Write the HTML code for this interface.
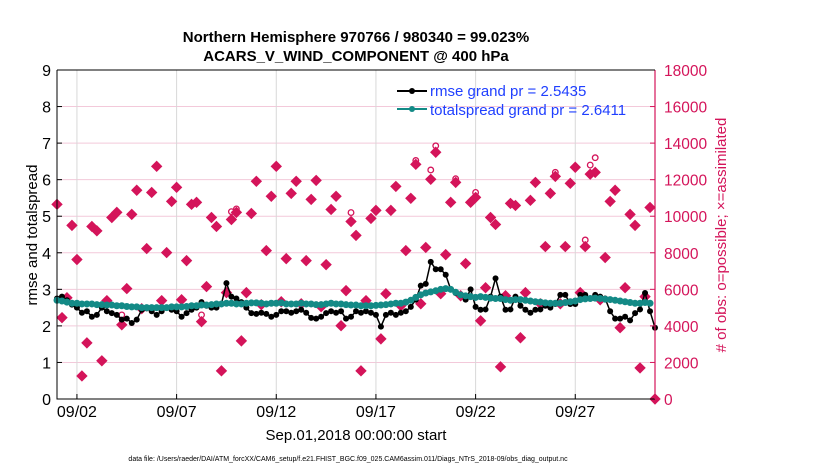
<!DOCTYPE html>
<html><head><meta charset="utf-8"><style>
body{margin:0;background:#fff;width:830px;height:470px;overflow:hidden;font-family:"Liberation Sans",sans-serif}
</style></head><body>
<svg id="chart" width="830" height="470" viewBox="0 0 830 470" xmlns="http://www.w3.org/2000/svg" font-family="Liberation Sans, sans-serif">
<g id="grid"></g>
<g id="counts"></g>
<g id="lines"></g>
<g id="axes"></g>
<text x="356" y="42" text-anchor="middle" font-size="15" font-weight="bold">Northern Hemisphere 970766 / 980340 = 99.023%</text>
<text x="356" y="61" text-anchor="middle" font-size="15" font-weight="bold">ACARS_V_WIND_COMPONENT @ 400 hPa</text>
<text x="356" y="440" text-anchor="middle" font-size="15">Sep.01,2018 00:00:00 start</text>
<text transform="translate(37,235) rotate(-90)" text-anchor="middle" font-size="15">rmse and totalspread</text>
<text transform="translate(726,235) rotate(-90)" text-anchor="middle" font-size="15" fill="#d4145a">#  of obs: o=possible; ×=assimilated</text>
<text x="348" y="461" text-anchor="middle" font-size="7">data file: /Users/raeder/DAI/ATM_forcXX/CAM6_setup/f.e21.FHIST_BGC.f09_025.CAM6assim.011/Diags_NTrS_2018-09/obs_diag_output.nc</text>
<g>
<line x1="397" y1="91" x2="427" y2="91" stroke="#000" stroke-width="2"/><circle cx="412" cy="91" r="3" fill="#000"/>
<text x="430" y="96" font-size="15" fill="#1f3fff">rmse grand pr = 2.5435</text>
<line x1="397" y1="109" x2="427" y2="109" stroke="#138a86" stroke-width="2"/><circle cx="412" cy="109" r="3" fill="#138a86"/>
<text x="430" y="115" font-size="15" fill="#1f3fff">totalspread grand pr = 2.6411</text>
</g>
</svg>
<script>
const rmse=[2.75,2.8,2.7,2.58,2.5,2.36,2.4,2.25,2.3,2.5,2.4,2.35,2.3,2.17,2.2,2.08,2.17,2.44,2.48,2.4,2.3,2.4,2.5,2.44,2.4,2.25,2.35,2.44,2.5,2.65,2.55,2.5,2.5,2.6,3.17,2.8,2.75,2.65,2.5,2.35,2.33,2.36,2.33,2.25,2.3,2.4,2.4,2.36,2.4,2.44,2.36,2.22,2.2,2.25,2.35,2.4,2.36,2.4,2.2,2.25,2.4,2.36,2.4,2.36,2.3,1.98,2.3,2.36,2.3,2.36,2.4,2.52,2.72,3.1,3.15,3.75,3.55,3.55,3.4,3.0,2.9,2.85,2.72,3.0,2.52,2.44,2.45,2.8,3.3,2.8,2.44,2.45,2.8,2.55,2.44,2.36,2.44,2.45,2.55,2.5,2.6,2.85,2.85,2.6,2.6,2.85,2.85,2.75,2.85,2.8,2.75,2.4,2.2,2.2,2.25,2.15,2.35,2.45,2.9,2.4,1.95];
const spread=[2.7,2.68,2.65,2.62,2.62,2.6,2.6,2.6,2.58,2.58,2.57,2.57,2.55,2.55,2.53,2.52,2.52,2.5,2.5,2.5,2.5,2.5,2.5,2.52,2.52,2.52,2.53,2.55,2.55,2.57,2.57,2.58,2.6,2.6,2.62,2.62,2.6,2.6,2.62,2.63,2.63,2.62,2.6,2.62,2.62,2.63,2.6,2.6,2.6,2.62,2.6,2.6,2.58,2.58,2.6,2.62,2.6,2.6,2.58,2.57,2.57,2.55,2.55,2.55,2.56,2.57,2.58,2.6,2.62,2.62,2.65,2.7,2.78,2.85,2.9,2.93,2.96,3.0,3.02,3.0,2.92,2.85,2.82,2.8,2.78,2.8,2.78,2.76,2.75,2.75,2.72,2.7,2.72,2.72,2.7,2.68,2.66,2.65,2.63,2.62,2.62,2.62,2.64,2.66,2.68,2.72,2.74,2.75,2.76,2.75,2.73,2.72,2.7,2.68,2.66,2.64,2.62,2.62,2.64,2.62];
const assimilated=[10650,4450,5540,9500,7630,1260,3070,9440,9200,2090,5380,9930,10210,4060,6040,10100,11420,4940,8230,11300,12730,5380,8010,10810,11580,5430,7570,10650,10760,4230,6150,9930,9440,1540,5820,9820,10210,3180,5820,10150,11910,5160,8120,11090,12730,5320,7680,11250,11910,5210,7570,10920,11960,5050,7350,10370,11090,4010,5930,9710,8950,1540,5380,9880,10320,3290,5760,10320,11630,5100,8120,10980,12840,5210,8290,12020,13500,5760,7900,10760,11850,5650,7410,10760,11030,4280,6090,9930,9550,1760,5650,10700,10590,3350,5820,10870,11850,5210,8340,11250,12180,5210,8340,11800,12680,5820,8340,12300,12400,5430,7740,10810,11420,3900,6090,10100,9500,1700,5600,10480,0];
const possible=[10650,4450,5540,9500,7630,1260,3070,9440,9200,2090,5380,9930,10210,4600,6040,10100,11420,4940,8230,11300,12730,5380,8010,10810,11580,5430,7570,10650,10760,4600,6150,9930,9440,1540,5820,10250,10400,3180,5820,10150,11910,5160,8120,11090,12730,5320,7680,11250,11910,5210,7570,10920,11960,5050,7350,10370,11090,4010,5930,10200,8950,1540,5380,9880,10320,3290,5760,10320,11630,5100,8120,10980,13050,5210,8290,12530,13850,5760,7900,10760,12050,5650,7410,10760,11300,4280,6090,9930,9550,1760,5650,10700,10590,3350,5820,10870,11850,5210,8340,11250,12400,5210,8340,11800,12680,5820,8700,12800,13200,5430,7740,10810,11420,3900,6090,10100,9500,1700,5600,10480,0];
const dateLabels=["09/02","09/07","09/12","09/17","09/22","09/27"];
const dateDays=[1,6,11,16,21,26];
const leftTicks=[0,1,2,3,4,5,6,7,8,9];
const rightTicks=[0,2000,4000,6000,8000,10000,12000,14000,16000,18000];

const L=57,R=655,T=70,B=399;
const xd=i=>L+i*(R-L)/120;
const xday=d=>L+d*4*(R-L)/120;
const yl=v=>B-v*(B-T)/9;
const yr=v=>B-v*(B-T)/18000;
const NS="http://www.w3.org/2000/svg";
function mk(tag,parent,attrs){const e=document.createElementNS(NS,tag);for(const k in attrs)e.setAttribute(k,attrs[k]);parent.appendChild(e);return e;}
const grid=document.getElementById('grid'),axes=document.getElementById('axes'),cg=document.getElementById('counts'),lg=document.getElementById('lines');

leftTicks.forEach(v=>{
  const g=mk('line',grid,{x1:L,x2:R,y1:yl(v),y2:yl(v),stroke:'#f3c9da','stroke-width':1});
  
  
  mk('line',axes,{x1:L,x2:L+5,y1:yl(v),y2:yl(v),stroke:'#000'});
  const t=mk('text',axes,{x:L-6,y:yl(v)+6,'text-anchor':'end','font-size':16});
  t.textContent=v;
  
  
});
rightTicks.forEach(v=>{
  mk('line',axes,{x1:R-5,x2:R,y1:yr(v),y2:yr(v),stroke:'#d4145a'});
  const t=mk('text',axes,{x:R+9,y:yr(v)+6,'font-size':15.5,fill:'#d4145a'});
  t.textContent=v;
  
  
});
dateDays.forEach((d,k)=>{
  const g=mk('line',grid,{x1:xday(d),x2:xday(d),y1:T,y2:B,stroke:'#d8d8d8'});
  
  
  mk('line',axes,{x1:xday(d),x2:xday(d),y1:B,y2:B-5,stroke:'#000'});
  const t=mk('text',axes,{x:xday(d),y:B+18,'text-anchor':'middle','font-size':16});
  t.textContent=dateLabels[k];
  
  
});
const ax=mk('path',axes,{d:`M${L},${T}V${B}H${R}`,fill:'none',stroke:'#000','stroke-width':1});


const rax=mk('line',axes,{x1:R,x2:R,y1:T,y2:B,stroke:'#d4145a','stroke-width':1.2});


const tax=mk('line',axes,{x1:L,x2:R,y1:T,y2:T,stroke:'#000'});



possible.forEach((v,i)=>{
  const c=mk('circle',cg,{cx:xd(i),cy:yr(v),r:2.8,fill:'#fff',stroke:'#d4145a','stroke-width':1.3});
  
  
});
assimilated.forEach((v,i)=>{
  const x=xd(i),y=yr(v);
  const p=mk('path',cg,{d:`M${x},${y-5}L${x+5},${y}L${x},${y+5}L${x-5},${y}Z`,fill:'#d4145a',stroke:'#d4145a','stroke-width':1});
  
  
});
function series(arr,col,r,w,name){
  const pl=mk('polyline',lg,{points:arr.map((v,i)=>xd(i)+','+yl(v)).join(' '),fill:'none',stroke:col,'stroke-width':w});
  
  
  arr.forEach((v,i)=>{
    const c=mk('circle',lg,{cx:xd(i),cy:yl(v),r:r,fill:col});
    
    
  });
}
series(rmse,'#000',3,1.5,'rmse');
series(spread,'#138a86',3.5,2,'totalspread');
</script>
</body></html>
